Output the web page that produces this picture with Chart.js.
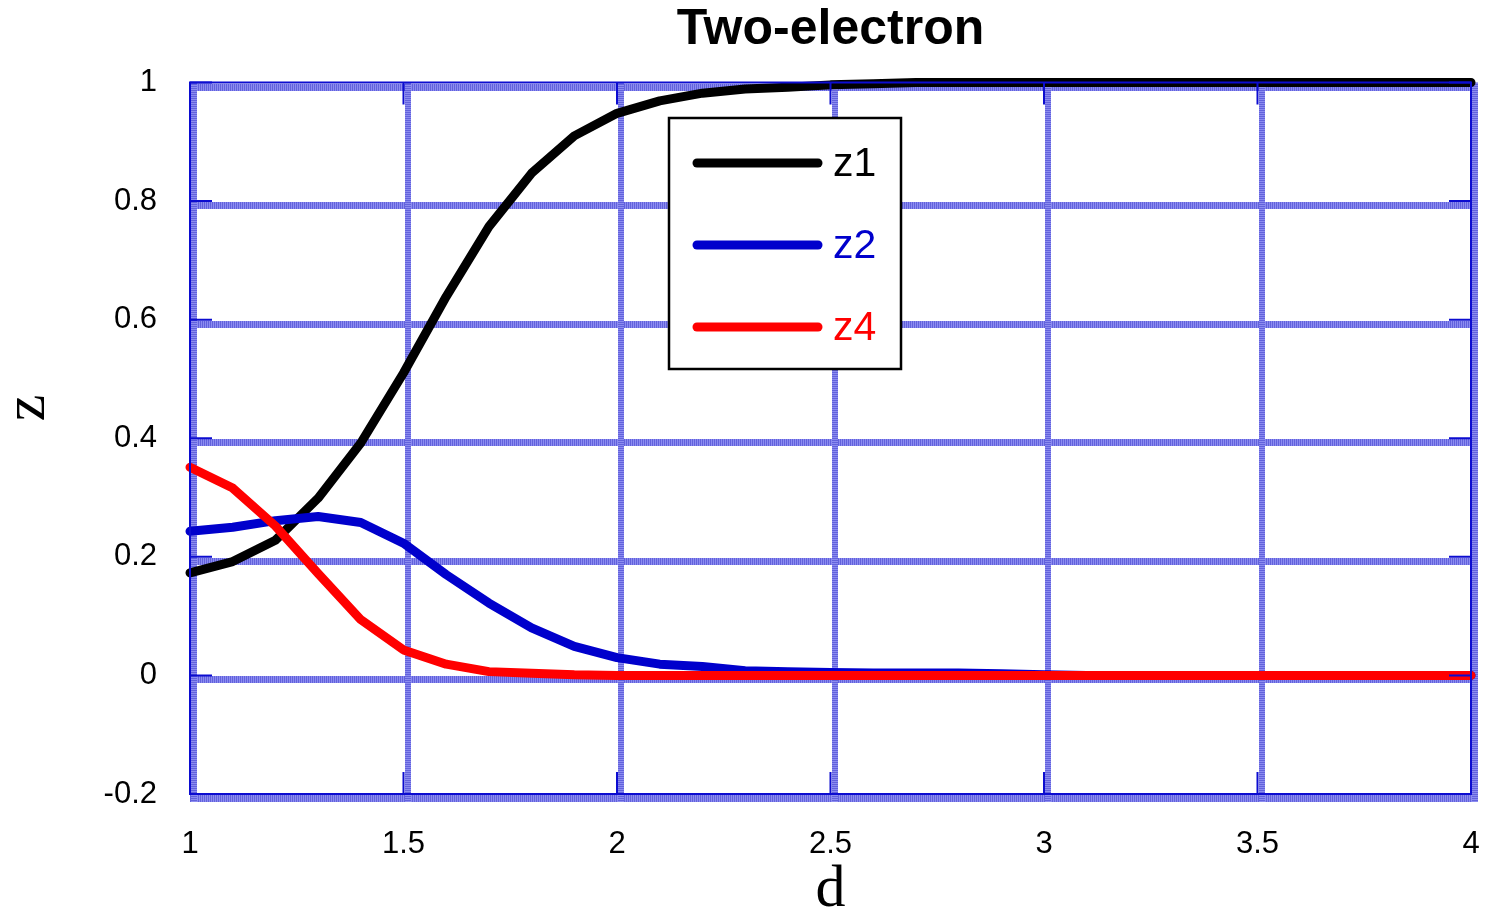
<!DOCTYPE html>
<html>
<head>
<meta charset="utf-8">
<script src="https://cdn.jsdelivr.net/npm/chart.js@4.4.1/dist/chart.umd.min.js"></script>
<style>
  body { margin: 0; background: #fff; }
  canvas { display: block; }
</style>
</head>
<body>
<canvas id="chart" width="1485" height="913"></canvas>
<script>
  // distance d, 1 .. 4 in steps of 0.1
  var d = [1.0, 1.1, 1.2, 1.3, 1.4, 1.5, 1.6, 1.7, 1.8, 1.9, 2.0,
           2.1, 2.2, 2.3, 2.4, 2.5, 2.6, 2.7, 2.8, 2.9, 3.0,
           3.1, 3.2, 3.3, 3.4, 3.5, 3.6, 3.7, 3.8, 3.9, 4.0];

  var z1 = [0.173, 0.192, 0.228, 0.299, 0.392, 0.51, 0.639, 0.757, 0.847, 0.910, 0.948,
            0.969, 0.982, 0.989, 0.992, 0.996, 0.998, 1.0, 1.0, 1.0, 1.0,
            1.0, 1.0, 1.0, 1.0, 1.0, 1.0, 1.0, 1.0, 1.0, 1.0];

  var z2 = [0.243, 0.250, 0.261, 0.268, 0.258, 0.223, 0.170, 0.122, 0.080, 0.049, 0.030,
            0.019, 0.015, 0.008, 0.006, 0.005, 0.004, 0.004, 0.004, 0.003, 0.001,
            0, 0, 0, 0, 0, 0, 0, 0, 0, 0];

  var z4 = [0.351, 0.316, 0.252, 0.172, 0.094, 0.043, 0.019, 0.0064, 0.0037, 0.001, 0,
            0, 0, 0, 0, 0, 0, 0, 0, 0, 0,
            0, 0, 0, 0, 0, 0, 0, 0, 0, 0];

  var seriesNames = ['z1', 'z2', 'z4'];
  var seriesColors = ['#000000', '#0000cc', '#ff0000'];

  var xTicks = [1, 1.5, 2, 2.5, 3, 3.5, 4];
  var yTicks = [-0.2, 0, 0.2, 0.4, 0.6, 0.8, 1];

  function pts(ys) {
    return ys.map(function (y, i) { return { x: d[i], y: y }; });
  }

  function fmt(v) {
    return String(parseFloat(Number(v).toFixed(2)));
  }

  // hatched pattern for the wide grid strips
  function hatch(vertical) {
    var c = document.createElement('canvas');
    c.width = 2; c.height = 2;
    var g = c.getContext('2d');
    g.fillStyle = '#8c8cf0';
    g.fillRect(0, 0, 2, 2);
    g.fillStyle = '#6262dc';
    if (vertical) g.fillRect(0, 0, 1, 2);
    else g.fillRect(0, 0, 2, 1);
    return g.createPattern(c, 'repeat');
  }

  var gridPlugin = {
    id: 'grid',
    beforeDatasetsDraw: function (chart) {
      var ctx = chart.ctx, a = chart.chartArea;
      var xs = chart.scales.x, ys = chart.scales.y;
      ctx.save();
      ctx.fillStyle = hatch(true);
      yTicks.forEach(function (v) {
        var py = Math.round(ys.getPixelForValue(v));
        ctx.fillRect(a.left, py + 1, a.right - a.left + 7, 7);
      });
      ctx.fillStyle = hatch(false);
      xTicks.forEach(function (v) {
        var px = Math.round(xs.getPixelForValue(v));
        ctx.fillRect(px + 1, a.top, 6, a.bottom - a.top + 8);
      });
      ctx.restore();
    },
    afterDatasetsDraw: function (chart) {
      var ctx = chart.ctx, a = chart.chartArea;
      var xs = chart.scales.x, ys = chart.scales.y;
      var t = 22;
      ctx.save();
      ctx.strokeStyle = '#0c0cd0';
      ctx.lineWidth = 2;
      ctx.strokeRect(a.left, a.top, a.right - a.left, a.bottom - a.top);
      ctx.beginPath();
      yTicks.forEach(function (v) {
        var py = ys.getPixelForValue(v);
        ctx.moveTo(a.left, py); ctx.lineTo(a.left + t, py);
        ctx.moveTo(a.right, py); ctx.lineTo(a.right - t, py);
      });
      xTicks.forEach(function (v) {
        var px = xs.getPixelForValue(v);
        ctx.moveTo(px, a.top); ctx.lineTo(px, a.top + t);
        ctx.moveTo(px, a.bottom); ctx.lineTo(px, a.bottom - t);
      });
      ctx.stroke();
      ctx.restore();
    },
    afterDraw: function (chart) {
      var ctx = chart.ctx;
      ctx.save();
      // y axis title, rotated
      ctx.translate(28, 408);
      ctx.rotate(-Math.PI / 2);
      ctx.font = '60px "Liberation Serif", "Times New Roman", serif';
      ctx.fillStyle = '#000';
      ctx.textAlign = 'center';
      ctx.textBaseline = 'middle';
      ctx.fillText('z', 0, 0);
      ctx.restore();

      // legend box
      var bx = 669, by = 118, bw = 232, bh = 251;
      ctx.save();
      ctx.fillStyle = '#fff';
      ctx.fillRect(bx, by, bw, bh);
      ctx.strokeStyle = '#000';
      ctx.lineWidth = 2.5;
      ctx.strokeRect(bx, by, bw, bh);
      ctx.font = '41px "Liberation Sans", Arial, sans-serif';
      ctx.textBaseline = 'middle';
      ctx.lineCap = 'round';
      ctx.lineWidth = 9;
      chart.data.datasets.forEach(function (ds, i) {
        var y = 163 + i * 82;
        ctx.strokeStyle = ds.borderColor;
        ctx.beginPath();
        ctx.moveTo(697, y); ctx.lineTo(818, y);
        ctx.stroke();
        ctx.fillStyle = ds.borderColor;
        ctx.fillText(ds.label, 833, y + 2);
      });
      ctx.restore();
    }
  };

  var datasets = [z1, z2, z4].map(function (ys, i) {
    return {
      label: seriesNames[i],
      data: pts(ys),
      borderColor: seriesColors[i],
      backgroundColor: seriesColors[i],
      borderWidth: 9,
      borderCapStyle: 'round',
      borderJoinStyle: 'round',
      pointRadius: 0,
      tension: 0,
      clip: false,
      order: 3 - i
    };
  });

  var tickFont = { family: '"Liberation Sans", Arial, sans-serif', size: 31 };

  var config = {
    type: 'line',
    data: { datasets: datasets },
    options: {
      responsive: false,
      animation: false,
      layout: { padding: { left: 0, right: 14, top: 0, bottom: 0 } },
      plugins: {
        legend: { display: false },
        tooltip: { enabled: false },
        title: {
          display: true,
          fullSize: false,
          text: 'Two-electron',
          color: '#000',
          font: { family: '"Liberation Sans", Arial, sans-serif', size: 50, weight: 'bold', lineHeight: 1.2 },
          padding: { top: 0, bottom: 22.5 }
        }
      },
      scales: {
        x: {
          type: 'linear',
          min: 1,
          max: 4,
          grid: { display: false, drawTicks: false },
          border: { display: false },
          ticks: {
            stepSize: 0.5,
            color: '#000',
            font: tickFont,
            padding: 32,
            maxRotation: 0,
            callback: fmt
          },
          title: {
            display: true,
            text: 'd',
            color: '#000',
            font: { family: '"Liberation Serif", "Times New Roman", serif', size: 60, lineHeight: 0.75 },
            padding: { top: 0, bottom: 0 }
          },
          afterFit: function (s) {
            s.height = 119;
            s.paddingLeft = 0;
            s.paddingRight = 0;
          }
        },
        y: {
          type: 'linear',
          min: -0.2,
          max: 1,
          grid: { display: false, drawTicks: false },
          border: { display: false },
          ticks: {
            stepSize: 0.2,
            color: '#000',
            font: tickFont,
            padding: 33,
            callback: fmt
          },
          afterFit: function (s) {
            s.width = 190;
            s.paddingTop = 0;
            s.paddingBottom = 0;
          }
        }
      }
    },
    plugins: [gridPlugin]
  };

  var chart = new Chart(document.getElementById('chart'), config);
</script>
</body>
</html>
